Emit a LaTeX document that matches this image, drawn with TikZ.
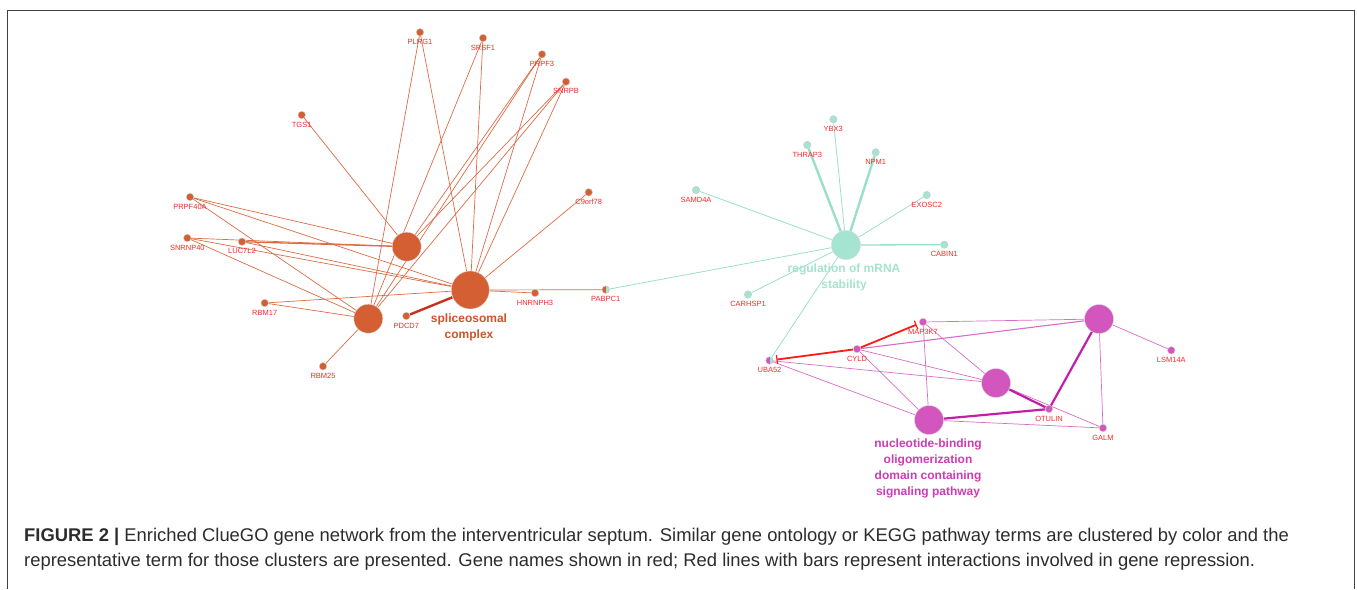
\documentclass[tikz,border=0pt]{standalone}
\usepackage{fontspec}
\setmainfont{Liberation Sans}
\usetikzlibrary{calc,arrows.meta}
\definecolor{orN}{HTML}{D35F33}
\definecolor{orE}{HTML}{DB6C45}
\definecolor{orD}{HTML}{C8321C}
\definecolor{orT}{HTML}{D0512B}
\definecolor{gred}{HTML}{F52A2A}
\definecolor{teN}{HTML}{A6E4D2}
\definecolor{teE}{HTML}{9ADFCA}
\definecolor{teT}{HTML}{A3E3CF}
\definecolor{maN}{HTML}{D356BF}
\definecolor{maE}{HTML}{D86DC9}
\definecolor{maD}{HTML}{C21FA8}
\definecolor{maT}{HTML}{CC3CB3}
\definecolor{rbar}{HTML}{FF1A1A}
\definecolor{capT}{HTML}{2E2B2C}
\pgfdeclarelayer{bg}
\pgfsetlayers{bg,main}
\tikzset{
  gene/.style={circle,inner sep=0pt,minimum size=7.5pt,draw=black!20,line width=0.4pt},
  ogene/.style={gene,fill=orN},
  tgene/.style={gene,fill=teN},
  mgene/.style={gene,fill=maN},
  glabel/.style={font=\fontsize{7.5}{8}\selectfont,text=gred,inner sep=0pt},
  term/.style={circle,inner sep=0pt,minimum size=29pt,draw=black!15,line width=0.4pt},
  oterm/.style={term,fill=orN},
  tterm/.style={term,fill=teN},
  mterm/.style={term,fill=maN},
  tlabel/.style={font=\fontsize{12}{16}\selectfont\bfseries,align=center,inner sep=0pt},
  oe/.style={draw=orE,line width=0.7pt},
  te/.style={draw=teE,line width=0.8pt},
  teK/.style={draw=teE,line width=2.4pt},
  me/.style={draw=maE,line width=0.7pt},
  meK/.style={draw=maD,line width=2.2pt},
  rb/.style={draw=rbar,line width=1.8pt,-{Bar[width=9pt,line width=1.2pt]},shorten >=3pt},
  captext/.style={anchor=base west,inner sep=0pt,text=capT,font=\fontsize{18.4}{22}\selectfont},
}
\newcommand\gn[4]{\node[#1] (#2) at (#3) {}; \node[glabel] (#2l) at ($(#2)+(0,9.5)$) {#4};}
\begin{document}
\begin{tikzpicture}[x=1pt,y=-1pt]
\useasboundingbox (0,0) rectangle (1357,589);
\draw[black!75,line width=0.9pt] (7.5,589) -- (7.5,10) -- (1354,10) -- (1354,589);
% ---- spliceosomal cluster
\node[oterm,minimum size=38pt] (SP) at (470.3,290) {};
\node[oterm] (A) at (406.7,246.7) {};
\node[oterm] (B) at (368.3,318.7) {};
\gn{ogene}{PLRG1}{420,32.3}{PLRG1}
\gn{ogene}{SRSF1}{483,38}{SRSF1}
\gn{ogene}{PRPF3}{542,54.3}{PRPF3}
\gn{ogene}{SNRPB}{566,81.7}{SNRPB}
\gn{ogene}{TGS1}{301.7,115}{TGS1}
\gn{ogene}{C9orf78}{588.7,192.3}{C9orf78}
\gn{ogene}{PRPF40A}{190,197}{PRPF40A}
\gn{ogene}{SNRNP40}{187.3,238}{SNRNP40}
\gn{ogene}{LUC7L2}{242,241.7}{LUC7L2}
\gn{ogene}{RBM17}{264.7,303}{RBM17}
\gn{ogene}{RBM25}{323,366.3}{RBM25}
\gn{ogene}{PDCD7}{406.3,316}{PDCD7}
\gn{ogene}{HNRNPH3}{535,293}{HNRNPH3}
\node[gene,fill=orN,path picture={\fill[teN] (path picture bounding box.north) rectangle (path picture bounding box.south east);}] (PABPC1) at (605.7,289.7) {};
\node[glabel] (PABPC1l) at ($(PABPC1)+(0,9.5)$) {PABPC1};
\node[tlabel,text=orT] (SPl) at (469,327.5) {spliceosomal\\complex};
% ---- mRNA cluster
\node[tterm] (MR) at (846,245) {};
\gn{tgene}{YBX3}{833.3,119.3}{YBX3}
\gn{tgene}{THRAP3}{807.3,145}{THRAP3}
\gn{tgene}{NPM1}{875.7,152.3}{NPM1}
\gn{tgene}{SAMD4A}{696,190}{SAMD4A}
\gn{tgene}{EXOSC2}{926.7,195}{EXOSC2}
\gn{tgene}{CABIN1}{944.3,244.7}{CABIN1}
\gn{tgene}{CARHSP1}{748,294.5}{CARHSP1}
\node[tlabel,text=teT] (MRl) at (844,277) {regulation of mRNA\\stability};
% ---- NOD cluster
\node[mterm] (R1) at (1099,319) {};
\node[mterm] (R2) at (996,383) {};
\node[mterm] (R3) at (929,420) {};
\gn{mgene}{MAP3K7}{923,322}{MAP3K7}
\gn{mgene}{CYLD}{857,349}{CYLD}
\node[gene,fill=maN,path picture={\fill[teN] (path picture bounding box.north) rectangle (path picture bounding box.south east);}] (UBA52) at (769.5,360.5) {};
\node[glabel] (UBA52l) at ($(UBA52)+(0,9.5)$) {UBA52};
\gn{mgene}{LSM14A}{1171.3,350.3}{LSM14A}
\gn{mgene}{OTULIN}{1049,409}{OTULIN}
\gn{mgene}{GALM}{1103,428}{GALM}
\node[tlabel,text=maT] (R3l) at (928,468.8) {nucleotide-binding\\oligomerization\\domain containing\\signaling pathway};
% ---- caption
\node[captext] (cap1) at (24,541.5) {\textbf{FIGURE 2 |} Enriched ClueGO gene network from the interventricular septum. Similar gene ontology or KEGG pathway terms are clustered by color and the};
\node[captext] (cap2) at (24,566.5) {representative term for those clusters are presented. Gene names shown in red; Red lines with bars represent interactions involved in gene repression.};
% ---- edges
\begin{pgfonlayer}{bg}
\foreach \g in {PLRG1,SRSF1,PRPF3,SNRPB,C9orf78,PRPF40A,SNRNP40,LUC7L2,RBM17,HNRNPH3,PABPC1}
  \draw[oe] (\g) -- (SP);
\foreach \g in {TGS1,PRPF3,SNRPB,PRPF40A,SNRNP40}
  \draw[oe] (\g) -- (A);
\draw[oe,line width=1.3pt] (LUC7L2) -- (A);
\foreach \g in {PLRG1,SRSF1,PRPF3,SNRPB,PRPF40A,SNRNP40,RBM17,RBM25}
  \draw[oe] (\g) -- (B);
\draw[draw=orD,line width=2.4pt] (PDCD7) -- (SP);
\foreach \g in {YBX3,SAMD4A,EXOSC2,CARHSP1,UBA52,PABPC1}
  \draw[te] (\g) -- (MR);
\draw[te,line width=1.3pt] (CABIN1) -- (MR);
\draw[teK] (THRAP3) -- (MR);
\draw[teK] (NPM1) -- (MR);
\foreach \g in {MAP3K7,LSM14A,GALM}
  \draw[me] (\g) -- (R1);
\draw[me,line width=1.1pt] (CYLD) -- (R1);
\foreach \g in {MAP3K7,CYLD,UBA52,GALM}
  \draw[me] (\g) -- (R2);
\foreach \g in {MAP3K7,CYLD,UBA52,GALM}
  \draw[me] (\g) -- (R3);
\draw[meK] (R1) -- (OTULIN);
\draw[meK] (R2) -- (OTULIN);
\draw[meK] (R3) -- (OTULIN);
\draw[rb] (CYLD) -- (MAP3K7);
\draw[rb] (CYLD) -- (UBA52);
\end{pgfonlayer}
\end{tikzpicture}
\end{document}
